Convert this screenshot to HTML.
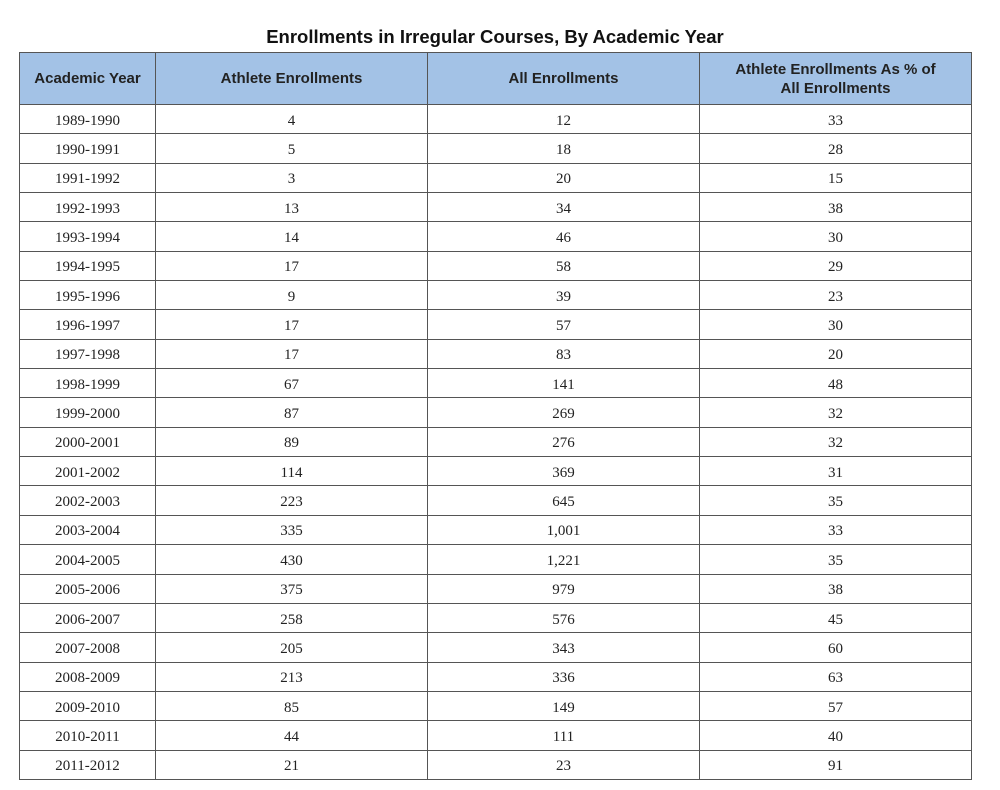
<!DOCTYPE html>
<html><head><style>
body{margin:0;background:#fff;width:1000px;height:790px;overflow:hidden;font-family:"Liberation Sans",sans-serif;}
.t{position:absolute;left:0;width:990px;top:26px;text-align:center;font-weight:bold;font-size:18.5px;color:#111;}
table{position:absolute;left:19px;top:52px;border-collapse:collapse;}
td,th{border:1.5px solid #555;text-align:center;padding:0;color:#222;}
th{background:#a3c2e6;height:51px;font-size:15px;font-weight:bold;line-height:19px;}
td{height:29.35px;font-size:15px;font-family:"Liberation Serif",serif;padding-top:4px;box-sizing:border-box;}
</style></head><body>
<div class="t">Enrollments in Irregular Courses, By Academic Year</div>
<table>
<colgroup><col style="width:136px"><col style="width:272px"><col style="width:272px"><col style="width:272px"></colgroup>
<tr><th>Academic Year</th><th>Athlete Enrollments</th><th>All Enrollments</th><th>Athlete Enrollments As % of<br>All Enrollments</th></tr>
<tr><td>1989-1990</td><td>4</td><td>12</td><td>33</td></tr>
<tr><td>1990-1991</td><td>5</td><td>18</td><td>28</td></tr>
<tr><td>1991-1992</td><td>3</td><td>20</td><td>15</td></tr>
<tr><td>1992-1993</td><td>13</td><td>34</td><td>38</td></tr>
<tr><td>1993-1994</td><td>14</td><td>46</td><td>30</td></tr>
<tr><td>1994-1995</td><td>17</td><td>58</td><td>29</td></tr>
<tr><td>1995-1996</td><td>9</td><td>39</td><td>23</td></tr>
<tr><td>1996-1997</td><td>17</td><td>57</td><td>30</td></tr>
<tr><td>1997-1998</td><td>17</td><td>83</td><td>20</td></tr>
<tr><td>1998-1999</td><td>67</td><td>141</td><td>48</td></tr>
<tr><td>1999-2000</td><td>87</td><td>269</td><td>32</td></tr>
<tr><td>2000-2001</td><td>89</td><td>276</td><td>32</td></tr>
<tr><td>2001-2002</td><td>114</td><td>369</td><td>31</td></tr>
<tr><td>2002-2003</td><td>223</td><td>645</td><td>35</td></tr>
<tr><td>2003-2004</td><td>335</td><td>1,001</td><td>33</td></tr>
<tr><td>2004-2005</td><td>430</td><td>1,221</td><td>35</td></tr>
<tr><td>2005-2006</td><td>375</td><td>979</td><td>38</td></tr>
<tr><td>2006-2007</td><td>258</td><td>576</td><td>45</td></tr>
<tr><td>2007-2008</td><td>205</td><td>343</td><td>60</td></tr>
<tr><td>2008-2009</td><td>213</td><td>336</td><td>63</td></tr>
<tr><td>2009-2010</td><td>85</td><td>149</td><td>57</td></tr>
<tr><td>2010-2011</td><td>44</td><td>111</td><td>40</td></tr>
<tr><td>2011-2012</td><td>21</td><td>23</td><td>91</td></tr>
</table>
</body></html>
